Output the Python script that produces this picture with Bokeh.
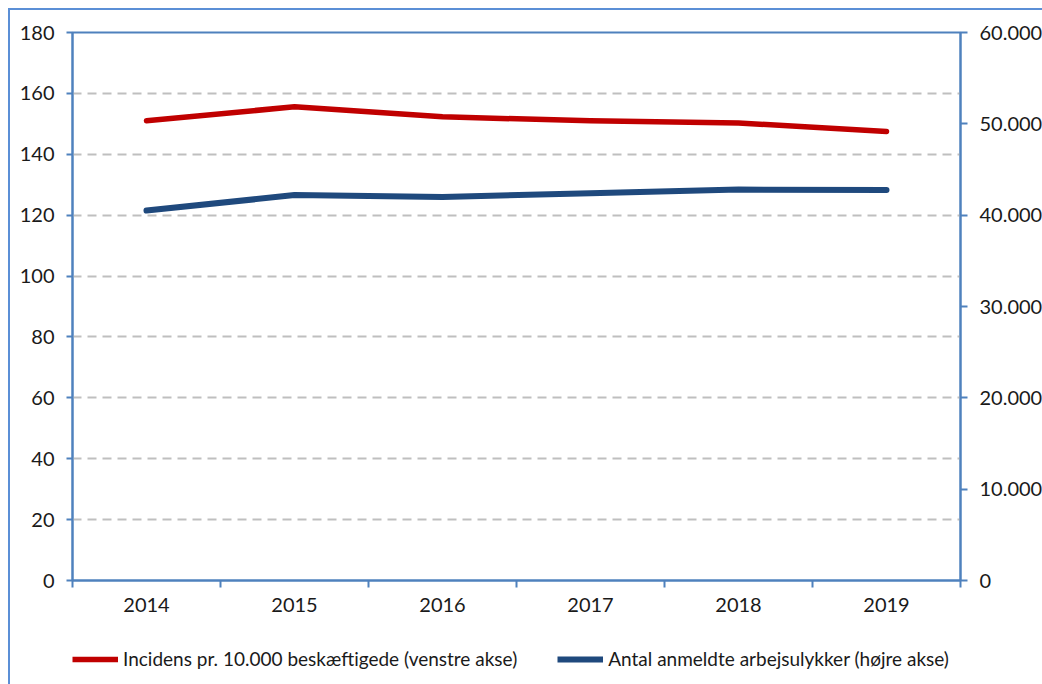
from bokeh.plotting import figure
from bokeh.layouts import column
from bokeh.models import (Range1d, LinearAxis, FixedTicker, Legend, LegendItem)
from bokeh.embed import file_html
from bokeh.resources import INLINE

# ---- data ----
years = ["2014", "2015", "2016", "2017", "2018", "2019"]
incidens = [151.0, 155.6, 152.3, 151.0, 150.3, 147.5]
anmeldte = [40500, 42200, 42000, 42400, 42800, 42750]
left_ticks = [0, 20, 40, 60, 80, 100, 120, 140, 160, 180]
right_ticks = [0, 10000, 20000, 30000, 40000, 50000, 60000]
right_labels = ["0", "10.000", "20.000", "30.000", "40.000", "50.000", "60.000"]
series_names = ["Incidens pr. 10.000 beskæftigede (venstre akse)",
                "Antal anmeldte arbejsulykker (højre akse)"]

FONT = "Lato"
FS = "20px"
TXT = "#1a1a1a"
AXC = "#4f81bd"
BORDER = "2px solid #5b8fd6"
RED = "#c00000"
BLUE = "#1f497d"

xs = list(range(len(years)))

p = figure(frame_width=886, frame_height=546, output_backend="svg", toolbar_location=None,
           x_range=Range1d(-0.5, len(years) - 0.5), y_range=Range1d(0, 180),
           min_border_left=62, min_border_top=22, min_border_right=84,
           min_border_bottom=45)
p.styles = {"border-left": BORDER, "border-top": BORDER,
            "margin-left": "8px", "margin-top": "8px"}
p.extra_y_ranges = {"right": Range1d(0, 60000)}

p.outline_line_color = AXC
p.outline_line_width = 2
p.background_fill_color = "white"
p.border_fill_color = "white"

# grid
p.xgrid.visible = False
p.ygrid.ticker = FixedTicker(ticks=left_ticks[1:-1])
p.ygrid.grid_line_color = "#bfbfbf"
p.ygrid.grid_line_dash = "9 6"
p.ygrid.grid_line_width = 2

# x axis
xa = p.xaxis[0]
xa.ticker = FixedTicker(ticks=xs, minor_ticks=[i - 0.5 for i in range(len(years) + 1)])
xa.major_label_overrides = {i: y for i, y in zip(xs, years)}
xa.major_tick_out = 0
xa.major_tick_in = 0
xa.minor_tick_out = 7
xa.minor_tick_in = 0
xa.minor_tick_line_color = AXC
xa.minor_tick_line_width = 2
xa.axis_line_color = AXC
xa.axis_line_width = 2
xa.major_label_standoff = 10
xa.major_label_text_font = FONT
xa.major_label_text_font_size = FS
xa.major_label_text_color = TXT

# left y axis
ya = p.yaxis[0]
ya.ticker = FixedTicker(ticks=left_ticks)
ya.major_tick_out = 6
ya.major_tick_in = 0
ya.minor_tick_out = 0
ya.minor_tick_in = 0
ya.major_tick_line_color = AXC
ya.major_tick_line_width = 2
ya.axis_line_color = AXC
ya.axis_line_width = 2
ya.major_label_standoff = 12
ya.major_label_text_font = FONT
ya.major_label_text_font_size = FS
ya.major_label_text_color = TXT

# right y axis
ra = LinearAxis(y_range_name="right", ticker=FixedTicker(ticks=right_ticks))
ra.major_label_overrides = {t: l for t, l in zip(right_ticks, right_labels)}
ra.major_tick_out = 7
ra.major_tick_in = 0
ra.minor_tick_out = 0
ra.minor_tick_in = 0
ra.major_tick_line_color = AXC
ra.major_tick_line_width = 2
ra.axis_line_color = AXC
ra.axis_line_width = 2
ra.major_label_standoff = 12
ra.major_label_text_font = FONT
ra.major_label_text_font_size = FS
ra.major_label_text_color = TXT
p.add_layout(ra, "right")

p.line(xs, incidens, line_color=RED, line_width=5.5, line_cap="round", line_join="round")
p.line(xs, anmeldte, line_color=BLUE, line_width=6, line_cap="round", line_join="round",
       y_range_name="right")

# ---- legend strip below the chart (its frame is aligned with the chart frame) ----
p2 = figure(width=1032, height=61, output_backend="svg", toolbar_location=None,
            x_axis_type=None, y_axis_type=None,
            x_range=Range1d(-0.5, len(years) - 0.5), y_range=Range1d(0, 1),
            min_border=0)
p2.styles = {"border-left": BORDER, "margin-left": "8px"}
p2.outline_line_color = None
p2.xgrid.visible = False
p2.ygrid.visible = False
# same series, out of this strip's visible range: only their legend glyphs show
l1 = p2.line(xs, incidens, line_color=RED, line_width=5.5)
l2 = p2.line(xs, anmeldte, line_color=BLUE, line_width=6)

legend = Legend(items=[LegendItem(label=series_names[0], renderers=[l1]),
                       LegendItem(label=series_names[1], renderers=[l2])],
                orientation="horizontal", location=(0, 14))
legend.glyph_width = 46
legend.glyph_height = 20
legend.label_height = 20
legend.label_standoff = 5
legend.spacing = 40
legend.padding = 0
legend.margin = 0
legend.border_line_color = None
legend.background_fill_alpha = 0
legend.label_text_font = FONT
legend.label_text_font_size = "19px"
legend.label_text_color = TXT
p2.add_layout(legend, "center")

layout = column(p, p2, spacing=0)
open("out.html", "w").write(file_html(layout, INLINE))
